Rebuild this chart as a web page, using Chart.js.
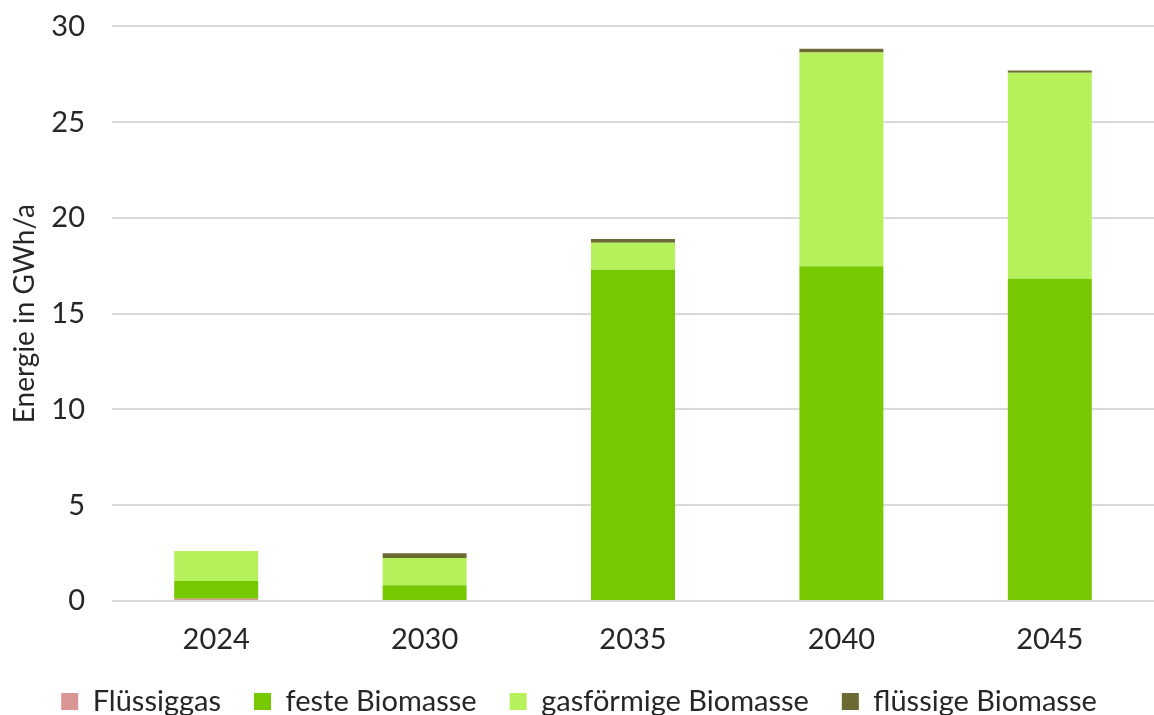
<!DOCTYPE html>
<html lang="de">
<head>
<meta charset="UTF-8" />
<title>Energie in GWh/a</title>
<script src="https://cdn.jsdelivr.net/npm/chart.js@4/dist/chart.umd.min.js"></script>
<style>
  html, body { margin: 0; padding: 0; background: #fff; }
  #chart { display: block; }
</style>
</head>
<body>
<canvas id="chart" width="1154" height="715"></canvas>
<script>
  // values (GWh/a)
  const years = ["2024", "2030", "2035", "2040", "2045"];
  const fluessiggas = [0.12, 0, 0, 0, 0];
  const festeBiomasse = [0.92, 0.82, 17.3, 17.48, 16.83];
  const gasBiomasse = [1.57, 1.42, 1.41, 11.16, 10.75];
  const fluessigeBiomasse = [0, 0.25, 0.19, 0.19, 0.12];

  const textColor = "#262626";
  const font = "Lato";

  new Chart(document.getElementById("chart"), {
    type: "bar",
    data: {
      labels: years,
      datasets: [
        { label: "Flüssiggas", data: fluessiggas, backgroundColor: "#d99694" },
        { label: "feste Biomasse", data: festeBiomasse, backgroundColor: "#76c800" },
        { label: "gasförmige Biomasse", data: gasBiomasse, backgroundColor: "#b6f05a" },
        { label: "flüssige Biomasse", data: fluessigeBiomasse, backgroundColor: "#6b6a33" },
      ],
    },
    options: {
      responsive: false,
      animation: false,
      barPercentage: 0.403,
      categoryPercentage: 1,
      layout: { padding: { top: 0, right: -4, bottom: 0, left: 0 } },
      plugins: {
        tooltip: { enabled: false },
        legend: {
          position: "bottom",
          maxHeight: 61,
          labels: {
            color: textColor,
            font: { family: font, size: 29 },
            boxWidth: 17,
            boxHeight: 17,
            padding: 33,
          },
        },
      },
      scales: {
        x: {
          stacked: true,
          grid: { display: false },
          border: { display: false },
          ticks: { color: textColor, font: { family: font, size: 29 }, padding: 13 },
          afterFit: (s) => {
            s.height = 53;
            s.paddingLeft = 0;
            s.paddingRight = 0;
          },
        },
        y: {
          stacked: true,
          min: 0,
          max: 30,
          ticks: { stepSize: 5, color: textColor, font: { family: font, size: 29 }, padding: 9 },
          grid: { color: "#d9d9d9", lineWidth: 2, tickLength: 18, tickColor: "rgba(0,0,0,0)" },
          border: { display: false },
          title: {
            display: true,
            text: "Energie in GWh/a",
            color: textColor,
            font: { family: font, size: 28 },
            padding: { top: 8, bottom: 0 },
          },
          afterFit: (s) => { s.width = 112; },
        },
      },
    },
  });
</script>
</body>
</html>
